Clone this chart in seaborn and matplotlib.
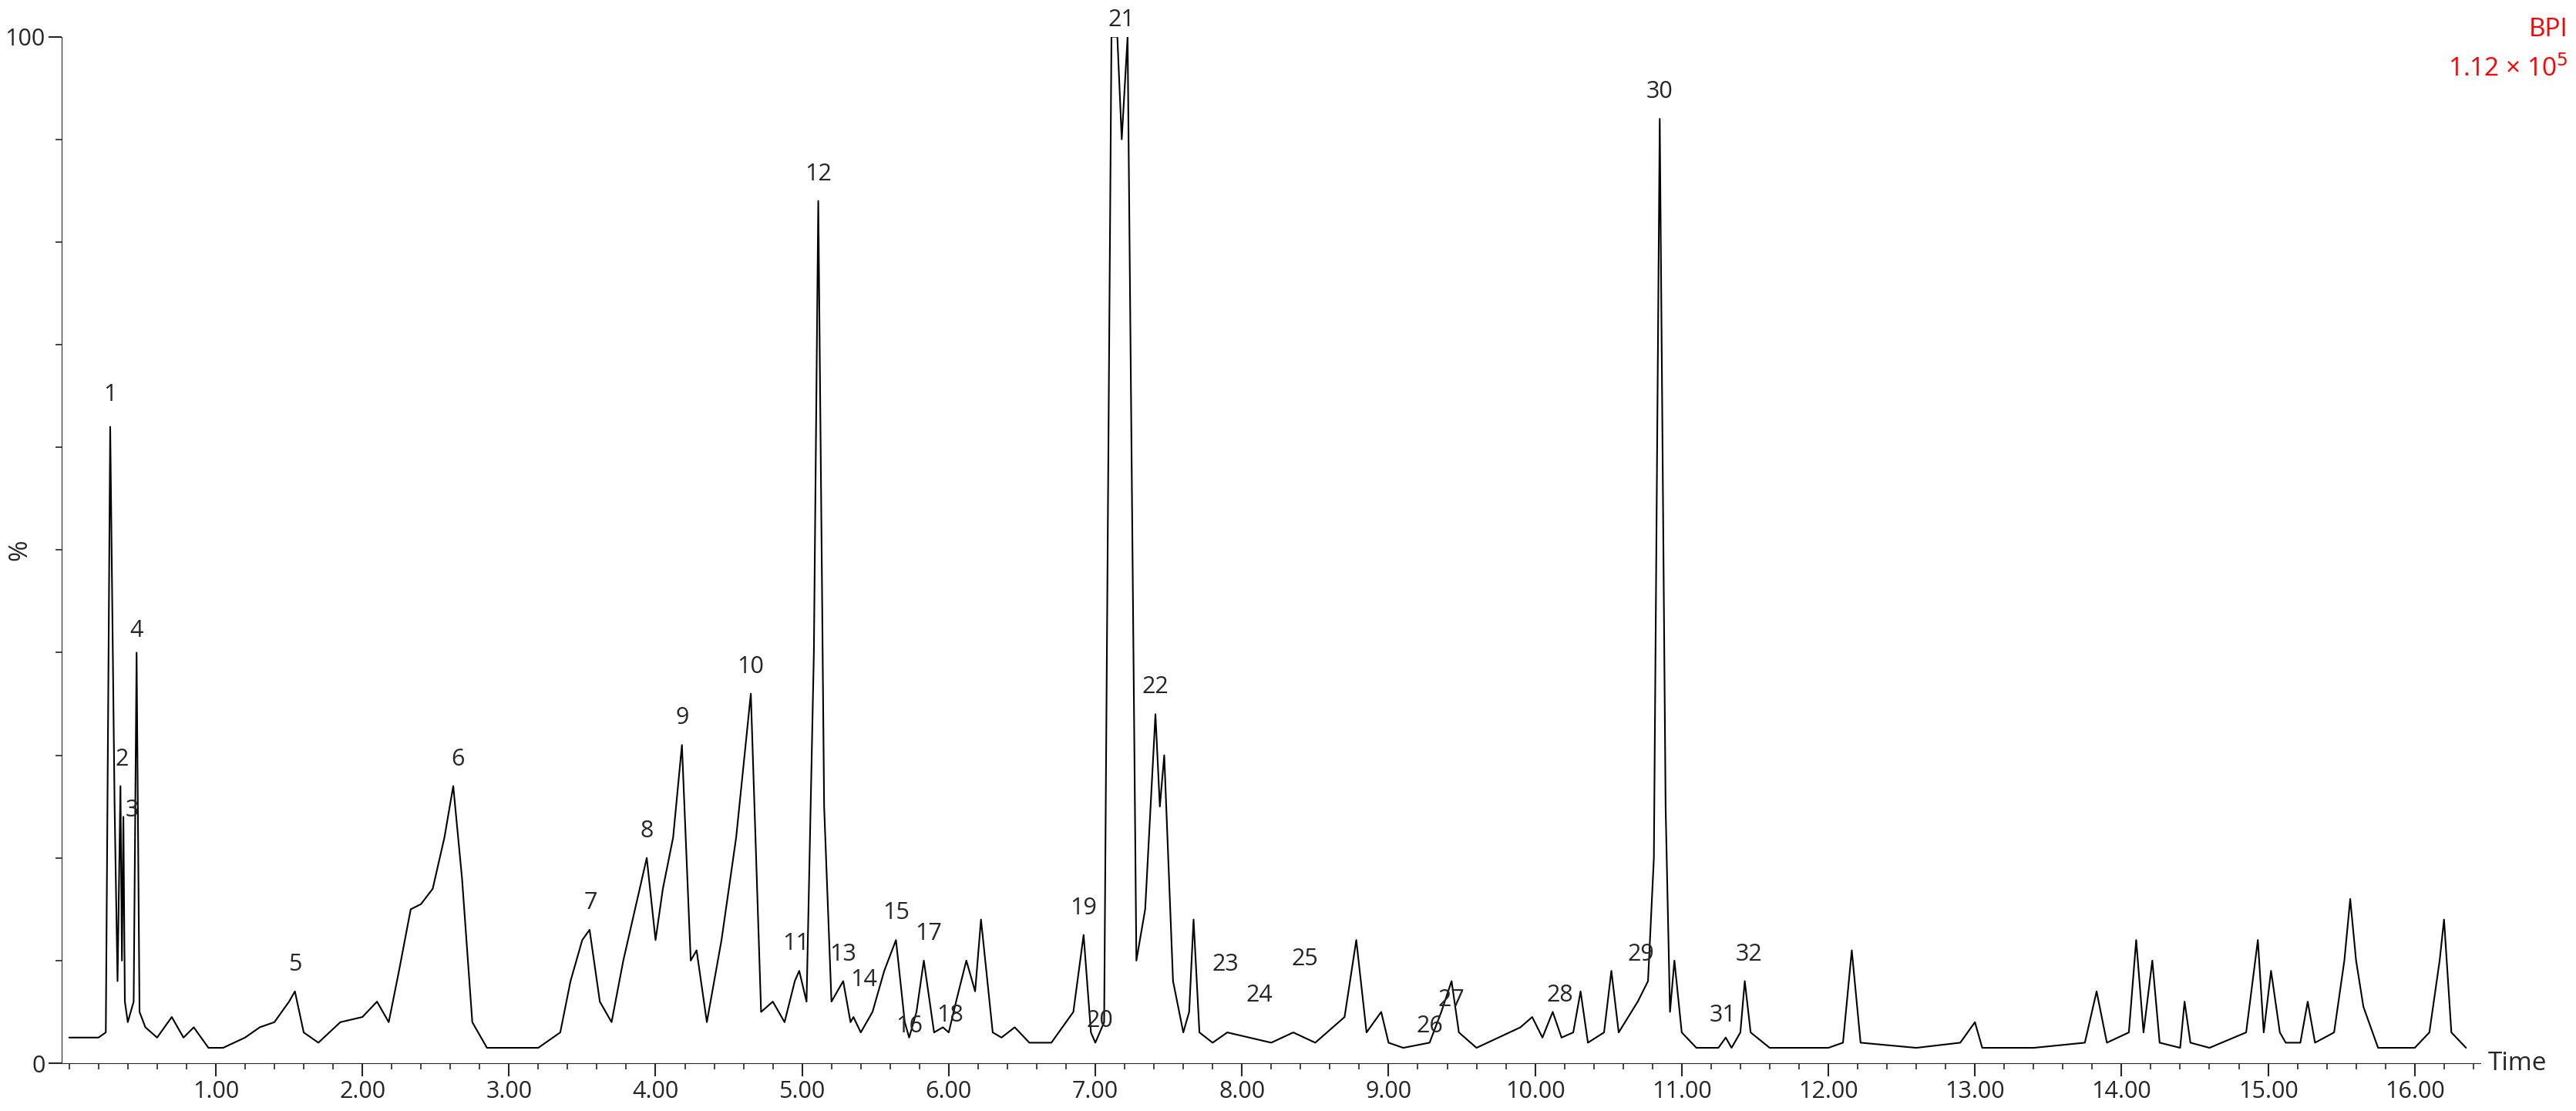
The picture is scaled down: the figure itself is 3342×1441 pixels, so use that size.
import matplotlib
matplotlib.use("Agg")
import matplotlib.pyplot as plt
import seaborn as sns
import pandas as pd

time = [0.0, 0.20, 0.25, 0.28, 0.31, 0.33, 0.35, 0.36, 0.37, 0.38, 0.40, 0.44, 0.46, 0.48, 0.52, 0.60, 0.70, 0.78, 0.85, 0.95, 1.05, 1.20, 1.30, 1.40, 1.50, 1.54, 1.60, 1.70, 1.85, 2.00, 2.10, 2.18,
        2.25, 2.33, 2.40, 2.48, 2.56, 2.62, 2.68, 2.75, 2.85, 3.00, 3.20, 3.35, 3.42, 3.50, 3.55, 3.62, 3.70, 3.78, 3.86, 3.94, 4.00, 4.05, 4.12, 4.18, 4.24, 4.28, 4.35,
        4.45, 4.55, 4.65, 4.72, 4.80, 4.88, 4.95, 4.98, 5.03, 5.08, 5.11, 5.15, 5.20, 5.28, 5.33, 5.35, 5.40, 5.48, 5.56, 5.64, 5.70, 5.73, 5.78, 5.83, 5.90, 5.96, 6.00, 6.05, 6.12, 6.18, 6.22, 6.30, 6.36,
        6.45, 6.55, 6.70, 6.85, 6.92, 6.97, 7.00, 7.06, 7.11, 7.15, 7.18, 7.22, 7.28, 7.34, 7.41, 7.44, 7.47, 7.53, 7.60, 7.64, 7.67, 7.71, 7.80, 7.90, 8.05, 8.20, 8.35, 8.50, 8.70, 8.78, 8.85, 8.95, 9.00, 9.10,
        9.28, 9.36, 9.43, 9.48, 9.60, 9.90, 9.98, 10.05, 10.12, 10.18, 10.26, 10.31, 10.36, 10.47, 10.52, 10.57, 10.70, 10.77, 10.81, 10.85, 10.89, 10.92, 10.95, 11.00, 11.10, 11.25, 11.30, 11.34, 11.40, 11.43, 11.47, 11.60,
        12.00, 12.10, 12.16, 12.22, 12.60, 12.90, 13.00, 13.05, 13.40, 13.75, 13.83, 13.90, 14.05, 14.10, 14.15, 14.21, 14.26, 14.40, 14.43, 14.47, 14.60, 14.85, 14.93, 14.97, 15.02, 15.08, 15.12, 15.22, 15.27, 15.32,
        15.45, 15.52, 15.56, 15.60, 15.65, 15.75, 16.00, 16.10, 16.17, 16.20, 16.25, 16.35]
intensity = [2.5, 2.5, 3.0, 62.0, 25.0, 8.0, 27.0, 10.0, 24.0, 6.0, 4.0, 6.0, 40.0, 5.0, 3.5, 2.5, 4.5, 2.5, 3.5, 1.5, 1.5, 2.5, 3.5, 4.0, 6.0, 7.0, 3.0, 2.0, 4.0, 4.5, 6.0, 4.0,
             9.0, 15.0, 15.5, 17.0, 22.0, 27.0, 18.0, 4.0, 1.5, 1.5, 1.5, 3.0, 8.0, 12.0, 13.0, 6.0, 4.0, 10.0, 15.0, 20.0, 12.0, 17.0, 22.0, 31.0, 10.0, 11.0, 4.0,
             12.0, 22.0, 36.0, 5.0, 6.0, 4.0, 8.0, 9.0, 6.0, 40.0, 84.0, 25.0, 6.0, 8.0, 4.0, 4.5, 3.0, 5.0, 9.0, 12.0, 4.0, 2.5, 5.0, 10.0, 3.0, 3.5, 3.0, 6.0, 10.0, 7.0, 14.0, 3.0, 2.5,
             3.5, 2.0, 2.0, 5.0, 12.5, 3.0, 2.0, 4.0, 100.0, 100.0, 90.0, 100.0, 10.0, 15.0, 34.0, 25.0, 30.0, 8.0, 3.0, 5.0, 14.0, 3.0, 2.0, 3.0, 2.5, 2.0, 3.0, 2.0, 4.5, 12.0, 3.0, 5.0, 2.0, 1.5,
             2.0, 5.0, 8.0, 3.0, 1.5, 3.5, 4.5, 2.5, 5.0, 2.5, 3.0, 7.0, 2.0, 3.0, 9.0, 3.0, 6.0, 8.0, 20.0, 92.0, 25.0, 5.0, 10.0, 3.0, 1.5, 1.5, 2.5, 1.5, 3.0, 8.0, 3.0, 1.5,
             1.5, 2.0, 11.0, 2.0, 1.5, 2.0, 4.0, 1.5, 1.5, 2.0, 7.0, 2.0, 3.0, 12.0, 3.0, 10.0, 2.0, 1.5, 6.0, 2.0, 1.5, 3.0, 12.0, 3.0, 9.0, 3.0, 2.0, 2.0, 6.0, 2.0,
             3.0, 10.0, 16.0, 10.0, 5.5, 1.5, 1.5, 3.0, 10.0, 14.0, 3.0, 1.5]

peak_labels = [str(i) for i in range(1, 33)]
label_t = [0.28, 0.36, 0.43, 0.46, 1.54, 2.65, 3.56, 3.94, 4.18, 4.65, 4.96, 5.11, 5.28, 5.42, 5.64, 5.73, 5.86, 6.01, 6.92, 7.03, 7.18, 7.41, 7.89, 8.12, 8.43, 9.28, 9.43, 10.17, 10.72, 10.85, 11.28, 11.46]
label_y = [64, 28.5, 23.5, 41, 8.5, 28.5, 14.5, 21.5, 32.5, 37.5, 10.5, 85.5, 9.5, 7, 13.5, 2.5, 11.5, 3.5, 14, 3, 100.5, 35.5, 8.5, 5.5, 9, 2.5, 5, 5.5, 9.5, 93.5, 3.5, 9.5]

df = pd.DataFrame({"Time": time, "Intensity": intensity})

sns.set_style("ticks")
plt.rcParams['font.family'] = ['Open Sans', 'DejaVu Sans']
fig, ax = plt.subplots(figsize=(33.42, 14.41), dpi=100)
fig.subplots_adjust(left=0.024, right=0.963, bottom=0.043, top=0.967)
sns.lineplot(data=df, x="Time", y="Intensity", ax=ax, color="black", linewidth=1.5)

for lab, t, y in zip(peak_labels, label_t, label_y):
    ax.text(t, y, lab, ha="center", va="bottom", fontsize=22, clip_on=False)

ax.set_xlim(-0.05, 16.45)
ax.set_ylim(0, 100)
ax.set_xticks([float(i) for i in range(1, 17)])
ax.set_xticklabels([f"{i}.00" for i in range(1, 17)], fontsize=22)
ax.set_xticks([i / 5 for i in range(0, 83)], minor=True)
ax.set_yticks([0, 100])
ax.set_yticklabels(["0", "100"], fontsize=22)
ax.set_yticks(list(range(0, 101, 10)), minor=True)
ax.tick_params(axis="both", which="major", length=12, width=1.5)
ax.tick_params(axis="both", which="minor", length=6, width=1.2)
ax.set_xlabel("")
ax.set_ylabel("%", fontsize=24)
ax.yaxis.set_label_coords(-0.012, 0.5)
sns.despine(ax=ax)
ax.text(1.003, 0.0, "Time", transform=ax.transAxes, fontsize=24, ha="left", va="center")
fig.text(0.997, 0.985, "BPI", color="red", fontsize=24, ha="right", va="top")
fig.text(0.997, 0.95, r"1.12 × 10$^5$", color="red", fontsize=24, ha="right", va="top")
fig.savefig("out.png", dpi=100)
